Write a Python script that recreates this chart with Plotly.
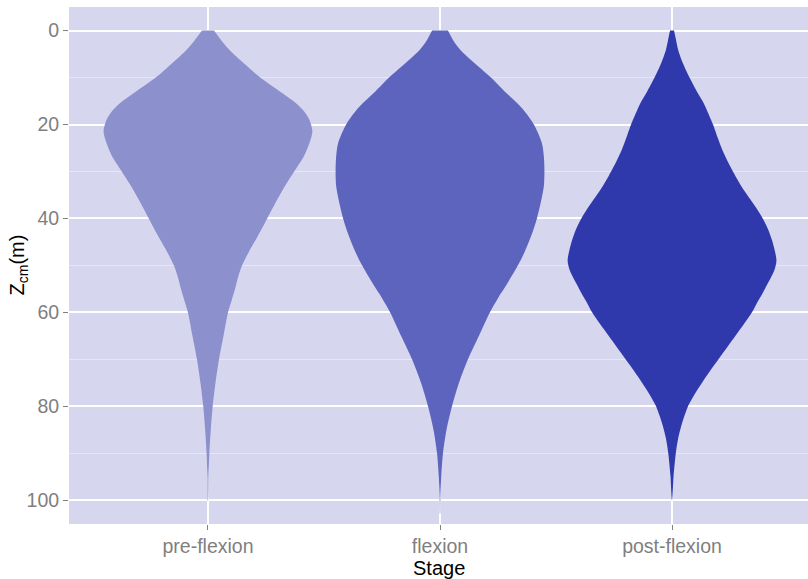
import plotly.graph_objects as go

stages = ["pre-flexion", "flexion", "post-flexion"]
colors = ["#8C91CE", "#5D64BE", "#3039AC"]

# depth (m) and relative violin width
pre_depth = [0, 2, 4, 7, 10, 13, 15, 17, 19, 21.5, 24, 27, 29, 33, 36, 40, 44, 47, 50,
             52.5, 55, 57.5, 60, 65, 70, 75, 80, 85, 90, 95, 100.2]
pre_width = [6, 13, 21, 36, 52, 72, 85, 95, 101, 104, 101, 95, 89, 77, 69, 59, 49, 41, 34,
             30, 27, 23.5, 20, 15.5, 11, 7.5, 4.7, 2.8, 1.4, 0.6, 0.1]

flex_depth = [0, 2, 4, 7, 10, 13, 15, 17, 20, 24, 27, 30, 33, 36, 40, 43, 47, 50, 54,
              57, 60, 65, 70, 75, 80, 85, 90, 95, 100, 103]
flex_width = [8, 13, 20, 35, 51, 65, 75, 84, 94, 102, 104, 104.5, 104, 101.5, 97, 92.5, 85,
              78, 67, 58, 50, 39, 28, 19, 12, 6.5, 3, 1.2, 0.3, 0.05]

post_depth = [0, 2, 4, 7, 10, 13, 15, 17, 20, 23, 25.5, 28, 31, 34, 36, 38, 40.3, 42.5,
              44.6, 47, 49, 51, 52.4, 54, 56, 58, 60, 62.5, 65, 67.5, 70, 72.5, 75, 77.5,
              80, 82, 84.4, 87, 90, 95, 100]
post_width = [2, 4, 6, 11, 17.5, 25, 30.5, 35, 41, 46, 50.5, 56, 63.5, 72, 78.5, 85, 91.5,
              96.5, 100, 103, 104.5, 102.5, 99.5, 95.5, 90.5, 85, 80, 72, 63.5, 55, 46.5,
              38, 30, 22.5, 16, 12.5, 9, 6, 3.8, 1.5, 0.1]

y_ticks = [0, 20, 40, 60, 80, 100]

profiles = [(pre_depth, pre_width), (flex_depth, flex_width), (post_depth, post_width)]

fig = go.Figure()
for i, (d, w) in enumerate(profiles):
    m = max(w)
    half = [0.45 * v / m for v in w]
    xs = [i - h for h in half] + [i + h for h in half[::-1]]
    ys = list(d) + list(d[::-1])
    fig.add_trace(go.Scatter(x=xs, y=ys, fill="toself", fillcolor=colors[i],
                             mode="lines", line=dict(width=0, color=colors[i], shape="spline",
                                                     smoothing=0.8),
                             hoverinfo="skip", showlegend=False))

fig.update_layout(
    width=808, height=579,
    margin=dict(l=69, r=0, t=7, b=55),
    paper_bgcolor="white",
    plot_bgcolor="#D6D6EF",
    font=dict(family="Liberation Sans, Arial, sans-serif", size=19.5, color="#7F7F7F"),
    showlegend=False,
    annotations=[
        dict(text="Stage", xref="paper", yref="paper", x=0.5, y=0, yshift=-44,
             xanchor="center", yanchor="middle", showarrow=False,
             font=dict(size=20, color="black")),
        dict(text="Z<sub>cm</sub>(m)", xref="paper", yref="paper", x=0, y=0.5, xshift=-51,
             xanchor="center", yanchor="middle", textangle=-90, showarrow=False,
             font=dict(size=20, color="black")),
    ],
)
fig.update_xaxes(
    range=[-0.599, 2.586], tickmode="array", tickvals=[0, 1, 2], ticktext=stages,
    showgrid=True, gridcolor="white", gridwidth=1.5, zeroline=False, automargin=False,
    ticks="outside", ticklen=5, tickcolor="#7F7F7F", tickwidth=1,
    tickfont=dict(size=19.5, color="#7F7F7F"),
    showline=False,
)
fig.update_yaxes(
    range=[105.1, -5.03], tickmode="array", tickvals=y_ticks,
    showgrid=True, gridcolor="white", gridwidth=1.5, zeroline=False, automargin=False,
    minor=dict(tickvals=[10, 30, 50, 70, 90], showgrid=True, gridcolor="#E6E6F5", gridwidth=0.8),
    ticks="outside", ticklen=5, tickcolor="#7F7F7F", tickwidth=1,
    tickfont=dict(size=19.5, color="#7F7F7F"),
    showline=False,
)

fig.write_html("out.html", config={"displayModeBar": False},
               post_script="document.body.style.margin='0';document.body.style.overflow='hidden';")
